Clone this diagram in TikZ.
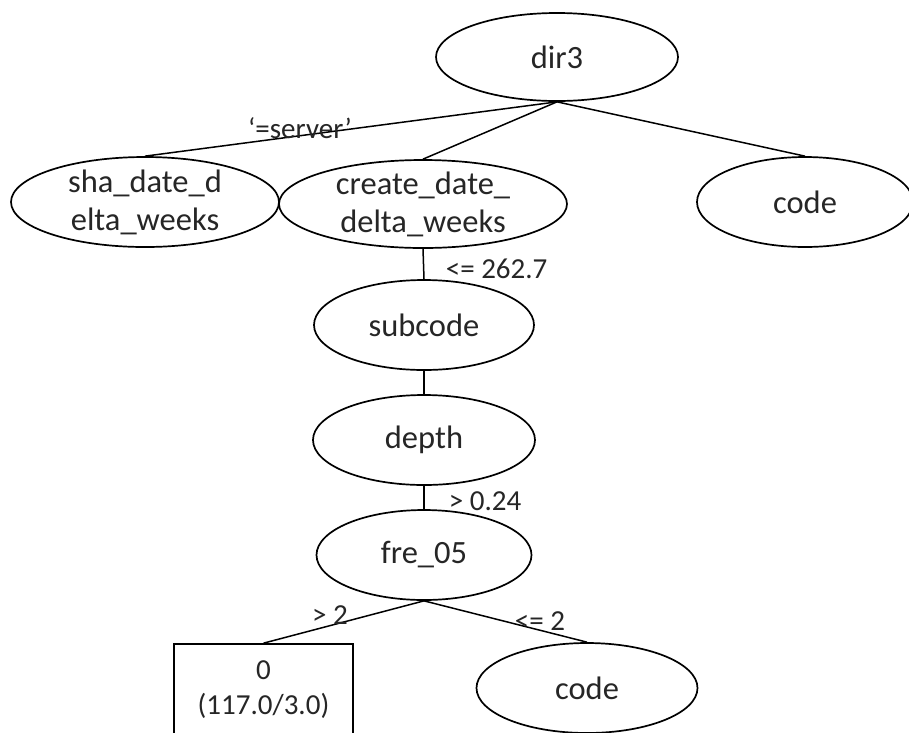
\documentclass[tikz,border=0pt]{standalone}
\usepackage{fontspec}
\setmainfont{Carlito}
\usetikzlibrary{shapes.geometric}
\begin{document}
\begin{tikzpicture}[x=1pt,y=-1pt,line width=1.7pt,
  tnode/.style={ellipse,draw=black,inner sep=0pt,text=black!85,
    font=\fontsize{32.5}{38}\selectfont},
  tlabel/.style={inner sep=0pt,align=center,text=black!85,
    font=\fontsize{32.5}{38}\selectfont},
  leafbox/.style={rectangle,draw=black,inner sep=0pt,align=center,text=black!85,
    font=\fontsize{29}{35}\selectfont},
  elabel/.style={inner sep=0pt,text=black!85,font=\fontsize{29}{34}\selectfont},
  conn/.style={draw=black,line width=1.5pt}]
\useasboundingbox (0,0) rectangle (909,732);
\fill[white] (0,0) rectangle (909,732);
% nodes
\node[tnode,minimum width=242pt,minimum height=88pt] (dir3) at (557,57) {dir3};
\node[tnode,minimum width=268pt,minimum height=90pt,
  label={[tlabel]center:sha\_date\_d\\elta\_weeks}] (sha) at (145,202) {};
\node[tnode,minimum width=288pt,minimum height=88pt,
  label={[tlabel]center:create\_date\_\\delta\_weeks}] (create) at (423,204) {};
\node[tnode,minimum width=216pt,minimum height=90pt] (codeA) at (805,202) {code};
\node[tnode,minimum width=220pt,minimum height=90pt] (subcode) at (424,325) {subcode};
\node[tnode,minimum width=222pt,minimum height=90pt] (depth) at (424,440) {depth};
\node[tnode,minimum width=215pt,minimum height=90pt] (fre) at (424,555) {fre\_05};
\node[leafbox,minimum width=179pt,minimum height=92pt] (leaf) at (263.5,690) {0\\(117.0/3.0)};
\node[tnode,minimum width=221pt,minimum height=90pt] (codeB) at (587,688) {code};
% connectors
\draw[conn] (dir3.south) -- (sha.north);
\draw[conn] (dir3.south) -- (create.north);
\draw[conn] (dir3.south) -- (codeA.north);
\draw[conn] (create.south) -- (subcode.north);
\draw[conn] (subcode.south) -- (depth.north);
\draw[conn] (depth.south) -- (fre.north);
\draw[conn] (fre.south) -- (leaf.north);
\draw[conn] (fre.south) -- (codeB.north);
% edge labels
\node[elabel] (lserver) at (300,128) {‘=server’};
\node[elabel,anchor=west] (l262) at (445,269) {<= 262.7};
\node[elabel,anchor=west] (l024) at (448,501) {> 0.24};
\node[elabel] (lgt2) at (330,615) {> 2};
\node[elabel] (lle2) at (540,621) {<= 2};
\end{tikzpicture}
\end{document}
